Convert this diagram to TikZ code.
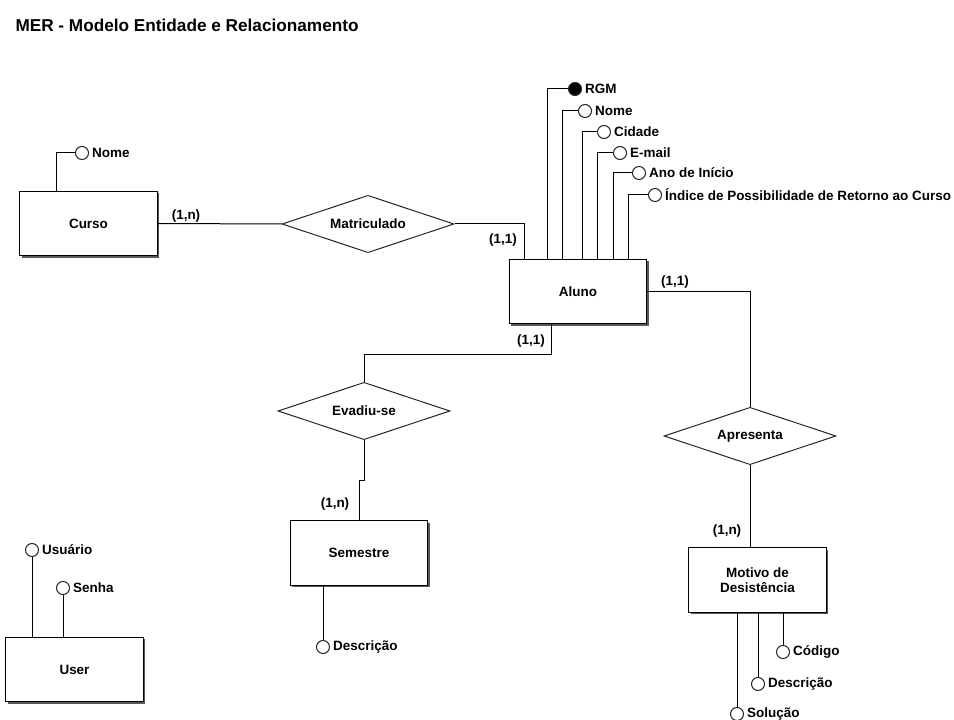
\documentclass[tikz,border=0pt]{standalone}
\usepackage{fontspec}
\setmainfont{Liberation Sans}
\usepackage{tikz}
\usetikzlibrary{shapes.geometric,shadows,calc}

\begin{document}
\begin{tikzpicture}[
  x=0.75pt, y=-0.75pt,
  font=\fontsize{10.1pt}{11.5pt}\selectfont\bfseries,
  line width=0.75pt,
  entity/.style={draw, fill=white, align=center, minimum width=103pt,
                 minimum height=48.5pt,
                 drop shadow={shadow xshift=1.5pt, shadow yshift=-1.5pt,
                              fill=black!65, opacity=1}},
  rel/.style={draw=black!85, diamond, fill=white, aspect=3, inner sep=0pt,
              minimum width=129pt, minimum height=43pt},
  attr/.style={draw=black!85, circle, fill=white, inner sep=0pt,
               minimum size=9.75pt, label={[inner sep=2pt]right:#1}},
  keyattr/.style={attr=#1, fill=black},
  card/.style={inner sep=0pt}
]
\useasboundingbox (0,0) rectangle (954,720);

\node[anchor=west, inner sep=0pt, font=\fontsize{12.9pt}{14pt}\selectfont\bfseries]
  (title) at (15,25.5) {MER - Modelo Entidade e Relacionamento};

% Entidades
\node[entity] (curso)    at (88.5,223.5) {Curso};
\node[entity] (aluno)    at (578,291.5)  {Aluno};
\node[entity] (semestre) at (359,553)    {Semestre};
\node[entity] (motivo)   at (757.5,580)  {Motivo de\\Desistência};
\node[entity] (user)     at (74.5,669.5) {User};

% Relacionamentos
\node[rel] (matric) at (368,224) {Matriculado};
\node[rel] (evadiu) at (364,411) {Evadiu-se};
\node[rel] (apres)  at (750,436) {Apresenta};

% Atributos
\node[attr=Nome] (cNome) at (82,153) {};

\node[keyattr=RGM] (aRgm) at (575,89) {};
\node[attr=Nome] (aNome) at (585,111) {};
\node[attr=Cidade] (aCidade) at (604,132) {};
\node[attr=E-mail] (aEmail) at (620,153) {};
\node[attr=Ano de Início] (aAno) at (639,173) {};
\node[attr=Índice de Possibilidade de Retorno ao Curso] (aIndice) at (655,195) {};

\node[attr=Descrição] (sDesc) at (323,647) {};

\node[attr=Código] (mCodigo) at (783,652) {};
\node[attr=Descrição] (mDesc) at (758,684) {};
\node[attr=Solução] (mSolucao) at (737,714) {};

\node[attr=Usuário] (uUsuario) at (32,550) {};
\node[attr=Senha] (uSenha) at (63,588) {};

% Cardinalidades
\node[card] (cardCurso)  at (186,216) {(1,n)};
\node[card] (cardAlunoM) at (503,240) {(1,1)};
\node[card] (cardAlunoA) at (675,282) {(1,1)};
\node[card] (cardAlunoE) at (531,341) {(1,1)};
\node[card] (cardSem)    at (335,504) {(1,n)};
\node[card] (cardMot)    at (727,531) {(1,n)};

% ligacoes
\draw (curso.east) -- (matric.west);
\draw (matric.east) -| ($(aluno.north west)+(16,0)$);
\draw (aluno.east) -| (apres.north);
\draw (apres.south) -- (apres.south |- motivo.north);
\draw ($(aluno.south west)+(43,0)$) -- ++(0,30) -| (evadiu.north);
\draw (evadiu.south) -- ++(0,40) -| (semestre.north);

% atributos
\draw (cNome.west) -| ($(curso.north west)+(37,0)$);
\draw (aRgm.west) -| ($(aluno.north west)+(39,0)$);
\draw (aNome.west) -| ($(aluno.north west)+(54,0)$);
\draw (aCidade.west) -| ($(aluno.north west)+(74,0)$);
\draw (aEmail.west) -| ($(aluno.north west)+(89,0)$);
\draw (aAno.west) -| ($(aluno.north west)+(105,0)$);
\draw (aIndice.west) -| ($(aluno.north west)+(120,0)$);
\draw (sDesc.north) -- (sDesc.north |- semestre.south);
\draw (mCodigo.north) -- (mCodigo.north |- motivo.south);
\draw (mDesc.north) -- (mDesc.north |- motivo.south);
\draw (mSolucao.north) -- (mSolucao.north |- motivo.south);
\draw (uUsuario.south) -- (uUsuario.south |- user.north);
\draw (uSenha.south) -- (uSenha.south |- user.north);
\end{tikzpicture}
\end{document}
